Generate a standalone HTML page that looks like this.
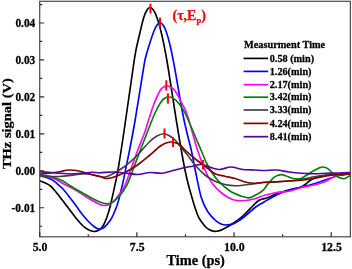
<!DOCTYPE html>
<html><head><meta charset="utf-8"><title>THz signal</title>
<style>html,body{margin:0;padding:0;background:#fff;}svg{display:block;will-change:transform;}</style></head>
<body>
<svg width="352" height="269" viewBox="0 0 352 269">
<rect width="352" height="269" fill="#ffffff"/>
<defs><clipPath id="c"><rect x="39.7" y="1.3" width="310.7" height="235.5"/></clipPath></defs>
<g clip-path="url(#c)" fill="none" stroke-width="1.65" stroke-linejoin="round" stroke-linecap="round">
<path d="M38.00,180.30 C39.22,180.75 43.22,182.05 45.30,183.00 C47.38,183.95 48.72,184.50 50.50,186.00 C52.28,187.50 53.92,189.50 56.00,192.00 C58.08,194.50 59.75,196.75 63.00,201.00 C66.25,205.25 72.17,213.33 75.50,217.50 C78.83,221.67 80.92,224.00 83.00,226.00 C85.08,228.00 86.17,228.58 88.00,229.50 C89.83,230.42 92.17,231.42 94.00,231.50 C95.83,231.58 97.50,230.92 99.00,230.00 C100.50,229.08 101.67,228.17 103.00,226.00 C104.33,223.83 105.75,220.50 107.00,217.00 C108.25,213.50 109.08,210.75 110.50,205.00 C111.92,199.25 114.25,188.33 115.50,182.50 C116.75,176.67 116.62,178.25 118.00,170.00 C119.38,161.75 121.21,150.17 123.75,133.00 C126.29,115.83 131.21,80.83 133.25,67.00 C135.29,53.17 134.88,55.75 136.00,50.00 C137.12,44.25 138.71,37.92 140.00,32.50 C141.29,27.08 142.58,21.25 143.75,17.50 C144.92,13.75 145.96,11.67 147.00,10.00 C148.04,8.33 149.00,7.58 150.00,7.50 C151.00,7.42 152.00,8.25 153.00,9.50 C154.00,10.75 154.83,12.00 156.00,15.00 C157.17,18.00 158.67,22.50 160.00,27.50 C161.33,32.50 162.67,38.42 164.00,45.00 C165.33,51.58 165.96,54.50 168.00,67.00 C170.04,79.50 174.04,106.17 176.25,120.00 C178.46,133.83 179.79,141.67 181.25,150.00 C182.71,158.33 183.84,164.33 185.00,170.00 C186.16,175.67 187.16,179.83 188.20,184.00 C189.24,188.17 190.20,191.33 191.25,195.00 C192.30,198.67 193.25,202.25 194.50,206.00 C195.75,209.75 197.00,214.12 198.75,217.50 C200.50,220.88 203.29,224.25 205.00,226.25 C206.71,228.25 207.54,228.67 209.00,229.50 C210.46,230.33 212.25,231.00 213.75,231.25 C215.25,231.50 216.54,231.29 218.00,231.00 C219.46,230.71 220.08,230.71 222.50,229.50 C224.92,228.29 229.17,225.96 232.50,223.75 C235.83,221.54 239.17,219.17 242.50,216.25 C245.83,213.33 249.92,208.79 252.50,206.25 C255.08,203.71 256.33,202.21 258.00,201.00 C259.67,199.79 260.92,199.53 262.50,199.00 C264.08,198.47 265.17,198.68 267.50,197.80 C269.83,196.93 272.92,195.05 276.50,193.75 C280.08,192.45 285.08,191.04 289.00,190.00 C292.92,188.96 297.25,188.47 300.00,187.50 C302.75,186.53 303.83,185.37 305.50,184.20 C307.17,183.03 308.58,181.50 310.00,180.50 C311.42,179.50 312.33,178.87 314.00,178.20 C315.67,177.53 317.50,177.03 320.00,176.50 C322.50,175.97 325.67,175.37 329.00,175.00 C332.33,174.63 336.33,174.51 340.00,174.30 C343.67,174.09 349.17,173.84 351.00,173.75" stroke="#000000"/>
<path d="M38.00,175.50 C39.17,175.75 42.92,176.42 45.00,177.00 C47.08,177.58 48.93,178.27 50.50,179.00 C52.07,179.73 52.85,180.23 54.40,181.40 C55.95,182.57 58.37,184.73 59.80,186.00 C61.23,187.27 61.47,187.25 63.00,189.00 C64.53,190.75 66.92,193.83 69.00,196.50 C71.08,199.17 73.33,202.08 75.50,205.00 C77.67,207.92 79.92,211.33 82.00,214.00 C84.08,216.67 86.00,218.92 88.00,221.00 C90.00,223.08 92.17,225.17 94.00,226.50 C95.83,227.83 97.33,228.83 99.00,229.00 C100.67,229.17 102.08,229.00 104.00,227.50 C105.92,226.00 108.83,222.42 110.50,220.00 C112.17,217.58 112.75,215.92 114.00,213.00 C115.25,210.08 116.55,207.42 118.00,202.50 C119.45,197.58 121.37,189.33 122.70,183.50 C124.03,177.67 124.85,173.08 126.00,167.50 C127.15,161.92 128.10,157.75 129.60,150.00 C131.10,142.25 132.64,134.83 135.00,121.00 C137.36,107.17 141.92,77.83 143.75,67.00 C145.58,56.17 144.96,60.08 146.00,56.00 C147.04,51.92 148.67,46.67 150.00,42.50 C151.33,38.33 152.83,33.92 154.00,31.00 C155.17,28.08 156.00,26.42 157.00,25.00 C158.00,23.58 159.00,22.50 160.00,22.50 C161.00,22.50 162.00,23.58 163.00,25.00 C164.00,26.42 164.83,27.67 166.00,31.00 C167.17,34.33 168.58,39.00 170.00,45.00 C171.42,51.00 172.42,55.75 174.50,67.00 C176.58,78.25 180.33,101.17 182.50,112.50 C184.67,123.83 186.04,128.75 187.50,135.00 C188.96,141.25 189.79,143.33 191.25,150.00 C192.71,156.67 194.58,167.08 196.25,175.00 C197.92,182.92 199.38,191.46 201.25,197.50 C203.12,203.54 205.21,207.50 207.50,211.25 C209.79,215.00 212.92,217.96 215.00,220.00 C217.08,222.04 218.33,222.67 220.00,223.50 C221.67,224.33 223.33,224.83 225.00,225.00 C226.67,225.17 228.33,224.83 230.00,224.50 C231.67,224.17 232.50,224.38 235.00,223.00 C237.50,221.62 241.67,218.83 245.00,216.25 C248.33,213.67 251.83,209.88 255.00,207.50 C258.17,205.12 260.42,204.08 264.00,202.00 C267.58,199.92 272.33,197.00 276.50,195.00 C280.67,193.00 284.83,191.33 289.00,190.00 C293.17,188.67 297.33,188.04 301.50,187.00 C305.67,185.96 309.83,185.00 314.00,183.75 C318.17,182.50 322.33,180.88 326.50,179.50 C330.67,178.12 334.92,176.50 339.00,175.50 C343.08,174.50 349.00,173.83 351.00,173.50" stroke="#0000ff"/>
<path d="M38.00,174.50 C39.17,174.75 42.92,175.50 45.00,176.00 C47.08,176.50 48.67,176.92 50.50,177.50 C52.33,178.08 53.92,178.50 56.00,179.50 C58.08,180.50 59.75,181.75 63.00,183.50 C66.25,185.25 71.33,187.58 75.50,190.00 C79.67,192.42 84.75,196.00 88.00,198.00 C91.25,200.00 92.92,200.88 95.00,202.00 C97.08,203.12 99.00,204.12 100.50,204.70 C102.00,205.28 102.75,205.45 104.00,205.50 C105.25,205.55 106.50,205.58 108.00,205.00 C109.50,204.42 111.33,203.50 113.00,202.00 C114.67,200.50 116.42,198.00 118.00,196.00 C119.58,194.00 121.20,192.08 122.50,190.00 C123.80,187.92 124.25,187.37 125.80,183.50 C127.35,179.63 129.80,172.38 131.80,166.80 C133.80,161.22 135.68,155.63 137.80,150.00 C139.92,144.37 142.68,138.08 144.50,133.00 C146.32,127.92 147.21,124.25 148.75,119.50 C150.29,114.75 151.88,109.29 153.75,104.50 C155.62,99.71 158.29,93.70 160.00,90.75 C161.71,87.80 162.83,87.63 164.00,86.80 C165.17,85.97 166.00,85.75 167.00,85.75 C168.00,85.75 168.67,85.97 170.00,86.80 C171.33,87.63 172.92,87.80 175.00,90.75 C177.08,93.70 180.42,100.33 182.50,104.50 C184.58,108.67 185.00,108.17 187.50,115.75 C190.00,123.33 194.58,140.96 197.50,150.00 C200.42,159.04 202.50,164.38 205.00,170.00 C207.50,175.62 209.58,179.79 212.50,183.75 C215.42,187.71 219.17,191.12 222.50,193.75 C225.83,196.38 229.17,198.33 232.50,199.50 C235.83,200.67 238.75,200.88 242.50,200.75 C246.25,200.62 251.42,199.62 255.00,198.75 C258.58,197.88 260.42,196.54 264.00,195.50 C267.58,194.46 272.33,193.21 276.50,192.50 C280.67,191.79 284.83,192.08 289.00,191.25 C293.17,190.42 297.33,188.54 301.50,187.50 C305.67,186.46 310.25,185.92 314.00,185.00 C317.75,184.08 321.08,183.17 324.00,182.00 C326.92,180.83 329.00,179.17 331.50,178.00 C334.00,176.83 335.75,175.79 339.00,175.00 C342.25,174.21 349.00,173.54 351.00,173.25" stroke="#ff00ff"/>
<path d="M38.00,174.50 C39.17,174.67 42.92,175.17 45.00,175.50 C47.08,175.83 48.67,176.03 50.50,176.50 C52.33,176.97 53.92,177.55 56.00,178.30 C58.08,179.05 60.83,179.88 63.00,181.00 C65.17,182.12 66.92,183.67 69.00,185.00 C71.08,186.33 73.08,187.58 75.50,189.00 C77.92,190.42 81.42,192.33 83.50,193.50 C85.58,194.67 86.08,194.95 88.00,196.00 C89.92,197.05 92.92,198.75 95.00,199.80 C97.08,200.85 98.83,201.68 100.50,202.30 C102.17,202.92 103.75,203.27 105.00,203.50 C106.25,203.73 106.67,203.95 108.00,203.70 C109.33,203.45 111.33,203.03 113.00,202.00 C114.67,200.97 116.33,199.25 118.00,197.50 C119.67,195.75 121.38,193.83 123.00,191.50 C124.62,189.17 125.87,187.58 127.70,183.50 C129.53,179.42 131.88,172.58 134.00,167.00 C136.12,161.42 138.23,155.67 140.40,150.00 C142.57,144.33 144.57,139.17 147.00,133.00 C149.43,126.83 152.67,118.17 155.00,113.00 C157.33,107.83 159.33,104.50 161.00,102.00 C162.67,99.50 163.71,98.83 165.00,98.00 C166.29,97.17 167.50,97.00 168.75,97.00 C170.00,97.00 171.04,97.17 172.50,98.00 C173.96,98.83 175.42,99.50 177.50,102.00 C179.58,104.50 181.08,105.00 185.00,113.00 C188.92,121.00 197.25,141.33 201.00,150.00 C204.75,158.67 204.75,160.00 207.50,165.00 C210.25,170.00 213.75,175.67 217.50,180.00 C221.25,184.33 225.83,188.25 230.00,191.00 C234.17,193.75 239.25,195.37 242.50,196.50 C245.75,197.63 247.00,198.22 249.50,197.80 C252.00,197.38 255.25,195.25 257.50,194.00 C259.75,192.75 261.32,191.90 263.00,190.30 C264.68,188.70 265.88,186.48 267.60,184.40 C269.32,182.32 271.57,179.32 273.30,177.80 C275.03,176.28 276.60,175.83 278.00,175.30 C279.40,174.77 280.30,174.48 281.70,174.60 C283.10,174.72 284.68,175.38 286.40,176.00 C288.12,176.62 290.23,177.82 292.00,178.30 C293.77,178.78 295.42,178.90 297.00,178.90 C298.58,178.90 299.83,178.95 301.50,178.30 C303.17,177.65 304.83,176.33 307.00,175.00 C309.17,173.67 312.50,171.47 314.50,170.30 C316.50,169.13 317.58,168.55 319.00,168.00 C320.42,167.45 321.54,166.90 323.00,167.00 C324.46,167.10 325.92,167.35 327.75,168.60 C329.58,169.85 332.12,173.02 334.00,174.50 C335.88,175.98 337.33,176.79 339.00,177.50 C340.67,178.21 342.33,178.96 344.00,178.75 C345.67,178.54 347.83,176.88 349.00,176.25 C350.17,175.62 350.67,175.21 351.00,175.00" stroke="#008000"/>
<path d="M38.00,176.00 C39.83,176.08 45.37,176.42 49.00,176.50 C52.63,176.58 56.18,176.68 59.80,176.50 C63.42,176.32 67.07,175.83 70.70,175.40 C74.33,174.97 78.72,174.13 81.60,173.90 C84.48,173.67 86.18,173.85 88.00,174.00 C89.82,174.15 90.50,174.38 92.50,174.80 C94.50,175.22 97.92,176.13 100.00,176.50 C102.08,176.87 102.92,177.42 105.00,177.00 C107.08,176.58 109.17,175.79 112.50,174.00 C115.83,172.21 120.83,169.42 125.00,166.25 C129.17,163.08 133.33,159.17 137.50,155.00 C141.67,150.83 146.75,144.42 150.00,141.25 C153.25,138.08 154.71,137.25 157.00,136.00 C159.29,134.75 161.75,133.83 163.75,133.75 C165.75,133.67 167.12,134.46 169.00,135.50 C170.88,136.54 173.17,138.25 175.00,140.00 C176.83,141.75 177.92,143.50 180.00,146.00 C182.08,148.50 185.00,151.83 187.50,155.00 C190.00,158.17 192.08,161.67 195.00,165.00 C197.92,168.33 201.67,172.29 205.00,175.00 C208.33,177.71 211.67,179.67 215.00,181.25 C218.33,182.83 221.67,183.75 225.00,184.50 C228.33,185.25 231.67,185.67 235.00,185.75 C238.33,185.83 241.67,185.33 245.00,185.00 C248.33,184.67 251.83,184.17 255.00,183.75 C258.17,183.33 260.42,182.81 264.00,182.50 C267.58,182.19 272.33,182.15 276.50,181.90 C280.67,181.65 285.58,181.28 289.00,181.00 C292.42,180.72 294.33,180.57 297.00,180.20 C299.67,179.83 302.17,179.38 305.00,178.80 C307.83,178.22 310.00,177.38 314.00,176.70 C318.00,176.02 322.83,175.23 329.00,174.70 C335.17,174.17 347.33,173.70 351.00,173.50" stroke="#404040"/>
<path d="M38.00,174.20 C39.83,174.03 45.37,173.62 49.00,173.20 C52.63,172.78 56.97,172.18 59.80,171.70 C62.63,171.22 64.18,170.58 66.00,170.30 C67.82,170.02 69.03,169.97 70.70,170.00 C72.37,170.03 73.87,170.12 76.00,170.50 C78.13,170.88 80.75,171.58 83.50,172.30 C86.25,173.02 89.75,174.10 92.50,174.80 C95.25,175.50 97.75,175.88 100.00,176.50 C102.25,177.12 103.92,178.33 106.00,178.50 C108.08,178.67 109.33,178.50 112.50,177.50 C115.67,176.50 120.83,174.58 125.00,172.50 C129.17,170.42 133.33,167.92 137.50,165.00 C141.67,162.08 146.25,158.12 150.00,155.00 C153.75,151.88 157.33,148.25 160.00,146.25 C162.67,144.25 164.12,143.71 166.00,143.00 C167.88,142.29 169.58,142.00 171.25,142.00 C172.92,142.00 174.54,142.50 176.00,143.00 C177.46,143.50 178.50,143.83 180.00,145.00 C181.50,146.17 182.50,147.71 185.00,150.00 C187.50,152.29 191.67,156.04 195.00,158.75 C198.33,161.46 201.67,163.75 205.00,166.25 C208.33,168.75 211.67,172.08 215.00,173.75 C218.33,175.42 221.50,175.42 225.00,176.25 C228.50,177.08 232.67,177.79 236.00,178.75 C239.33,179.71 241.83,181.25 245.00,182.00 C248.17,182.75 251.83,183.20 255.00,183.25 C258.17,183.30 260.42,182.54 264.00,182.30 C267.58,182.06 272.33,182.02 276.50,181.80 C280.67,181.58 284.83,181.27 289.00,181.00 C293.17,180.73 297.33,180.62 301.50,180.20 C305.67,179.78 309.83,179.20 314.00,178.50 C318.17,177.80 322.33,176.67 326.50,176.00 C330.67,175.33 334.92,174.80 339.00,174.50 C343.08,174.20 349.00,174.25 351.00,174.20" stroke="#800000"/>
<path d="M38.00,171.70 C39.83,171.80 45.37,172.05 49.00,172.30 C52.63,172.55 56.18,172.92 59.80,173.20 C63.42,173.48 67.07,174.00 70.70,174.00 C74.33,174.00 77.97,173.48 81.60,173.20 C85.23,172.92 89.43,172.37 92.50,172.30 C95.57,172.23 96.67,172.85 100.00,172.80 C103.33,172.75 108.33,171.97 112.50,172.00 C116.67,172.03 120.83,172.58 125.00,173.00 C129.17,173.42 133.33,174.58 137.50,174.50 C141.67,174.42 145.83,172.71 150.00,172.50 C154.17,172.29 158.33,173.67 162.50,173.25 C166.67,172.83 170.83,171.04 175.00,170.00 C179.17,168.96 184.58,167.62 187.50,167.00 C190.42,166.38 190.75,166.62 192.50,166.25 C194.25,165.88 196.33,165.09 198.00,164.80 C199.67,164.51 201.00,164.30 202.50,164.50 C204.00,164.70 205.33,165.42 207.00,166.00 C208.67,166.58 210.33,167.42 212.50,168.00 C214.67,168.58 216.92,169.67 220.00,169.50 C223.08,169.33 227.25,167.00 231.00,167.00 C234.75,167.00 238.50,169.00 242.50,169.50 C246.50,170.00 251.42,169.83 255.00,170.00 C258.58,170.17 260.42,170.50 264.00,170.50 C267.58,170.50 272.33,169.75 276.50,170.00 C280.67,170.25 284.83,171.46 289.00,172.00 C293.17,172.54 297.33,172.96 301.50,173.25 C305.67,173.54 309.83,173.75 314.00,173.75 C318.17,173.75 322.33,173.38 326.50,173.25 C330.67,173.12 334.92,173.12 339.00,173.00 C343.08,172.88 349.00,172.58 351.00,172.50" stroke="#5500aa"/>
</g>
<g stroke="#ff0000" stroke-width="2.0" fill="none">
<path d="M150.5,3.7 V13.5"/>
<path d="M160.0,17.5 V27.0"/>
<path d="M166.3,80.3 V90.6"/>
<path d="M167.9,93.3 V103.6"/>
<path d="M164.5,128.5 V138.5"/>
<path d="M173.0,137.0 V147.0"/>
<path d="M203.0,160.0 V169.5"/>
</g>
<rect x="39.7" y="1.3" width="310.7" height="235.5" fill="none" stroke="#505050" stroke-width="1.25"/>
<path d="M39.70,236.8 v-4.5 M136.88,236.8 v-4.5 M234.05,236.8 v-4.5 M331.22,236.8 v-4.5 M88.29,236.8 v-2.5 M185.46,236.8 v-2.5 M282.64,236.8 v-2.5 M39.7,207.75 h4.5 M39.7,170.80 h4.5 M39.7,133.85 h4.5 M39.7,96.90 h4.5 M39.7,59.95 h4.5 M39.7,23.00 h4.5 M39.7,226.23 h2.5 M39.7,189.28 h2.5 M39.7,152.33 h2.5 M39.7,115.38 h2.5 M39.7,78.43 h2.5 M39.7,41.47 h2.5 M39.7,4.53 h2.5" stroke="#2a2a2a" stroke-width="1.2" fill="none"/>
<g font-family="'Liberation Serif', serif" font-weight="bold" fill="#000" stroke="#000" stroke-width="0.25" stroke-linejoin="round">
<text transform="translate(40.00,251.00) scale(1,1.050)" font-size="11.8" text-anchor="middle">5.0</text>
<text transform="translate(137.18,251.00) scale(1,1.050)" font-size="11.8" text-anchor="middle">7.5</text>
<text transform="translate(234.35,251.00) scale(1,1.050)" font-size="11.8" text-anchor="middle">10.0</text>
<text transform="translate(331.52,251.00) scale(1,1.050)" font-size="11.8" text-anchor="middle">12.5</text>
<text transform="translate(35.30,211.75) scale(1,1.150)" font-size="11.4" text-anchor="end">-0.01</text>
<text transform="translate(35.30,174.80) scale(1,1.150)" font-size="11.4" text-anchor="end">0.00</text>
<text transform="translate(35.30,137.85) scale(1,1.150)" font-size="11.4" text-anchor="end">0.01</text>
<text transform="translate(35.30,100.90) scale(1,1.150)" font-size="11.4" text-anchor="end">0.02</text>
<text transform="translate(35.30,63.95) scale(1,1.150)" font-size="11.4" text-anchor="end">0.03</text>
<text transform="translate(35.30,27.00) scale(1,1.150)" font-size="11.4" text-anchor="end">0.04</text>
<text transform="translate(195.70,265.00) scale(1,1.000)" font-size="14.35" text-anchor="middle">Time (ps)</text>
<text transform="translate(11.1,123.6) rotate(-90) scale(1.09,1)" font-size="13.3" text-anchor="middle">THz signal (V)</text>
<text transform="translate(284.60,48.40) scale(1,1.080)" font-size="10.3" text-anchor="middle">Measurment Time</text>
<path d="M243.6,58.4 H268.2" stroke="#000000" stroke-width="1.7" fill="none"/>
<text transform="translate(269.70,61.60) scale(1,1.080)" font-size="10.25" text-anchor="start">0.58 (min)</text>
<path d="M243.6,71.4 H268.2" stroke="#0000ff" stroke-width="1.7" fill="none"/>
<text transform="translate(269.70,74.60) scale(1,1.080)" font-size="10.25" text-anchor="start">1.26(min)</text>
<path d="M243.6,84.7 H268.2" stroke="#ff00ff" stroke-width="1.7" fill="none"/>
<text transform="translate(269.70,87.90) scale(1,1.080)" font-size="10.25" text-anchor="start">2.17(min)</text>
<path d="M243.6,97.2 H268.2" stroke="#008000" stroke-width="1.7" fill="none"/>
<text transform="translate(269.70,100.40) scale(1,1.080)" font-size="10.25" text-anchor="start">3.42(min)</text>
<path d="M243.6,110.0 H268.2" stroke="#404040" stroke-width="1.7" fill="none"/>
<text transform="translate(269.70,113.20) scale(1,1.080)" font-size="10.25" text-anchor="start">3.33(min)</text>
<path d="M243.6,123.4 H268.2" stroke="#800000" stroke-width="1.7" fill="none"/>
<text transform="translate(269.70,126.60) scale(1,1.080)" font-size="10.25" text-anchor="start">4.24(min)</text>
<path d="M243.6,136.7 H268.2" stroke="#5500aa" stroke-width="1.7" fill="none"/>
<text transform="translate(269.70,139.90) scale(1,1.080)" font-size="10.25" text-anchor="start">8.41(min)</text>
<text x="172.5" y="20" font-size="14" fill="#ff0000" stroke="#ff0000">(τ,E<tspan font-size="8.5" dy="2.6">p</tspan><tspan dy="-2.6">)</tspan></text>
</g>
</svg>
</body></html>
